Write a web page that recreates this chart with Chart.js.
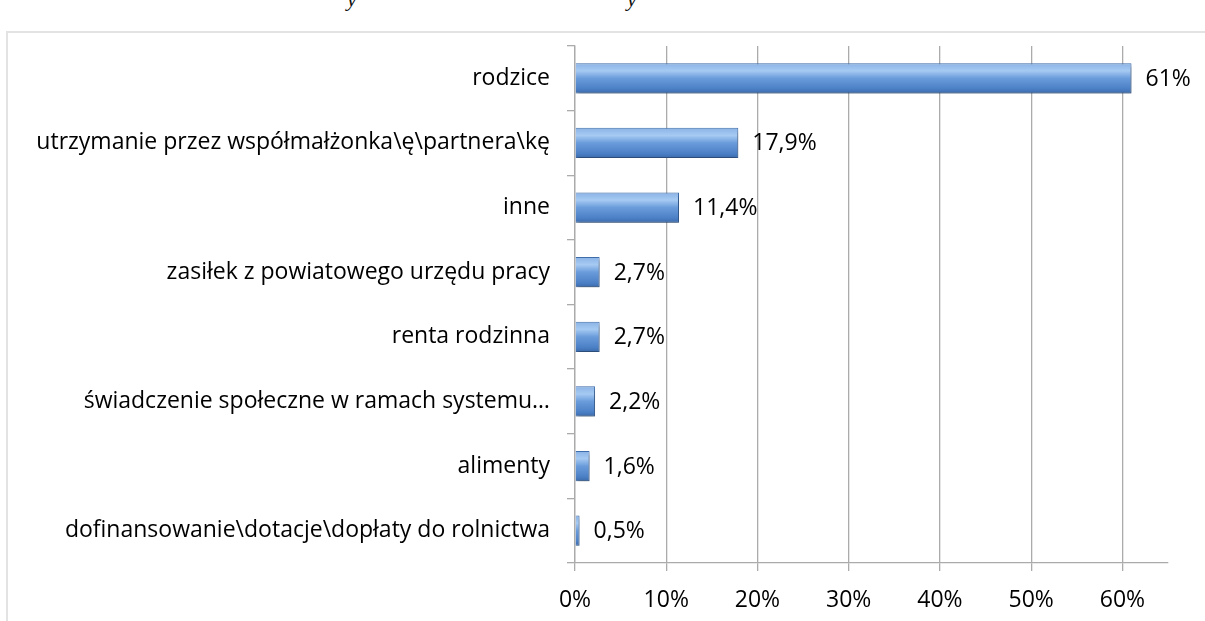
<!DOCTYPE html>
<html>
<head>
<meta charset="utf-8">
<script src="https://cdn.jsdelivr.net/npm/chart.js@4/dist/chart.umd.min.js"></script>
<style>
  html, body { margin: 0; padding: 0; background: #fff; overflow: hidden; }
  #wrap { position: relative; width: 1205px; height: 621px; }
  #frame { position: absolute; left: 6px; top: 31px; width: 1300px; height: 700px;
           border: 2px solid #e3e3e3; box-sizing: border-box; }
  .cut { position: absolute; top: -14px; font: italic 22px "Liberation Serif", serif; color: #111; }
  canvas { position: absolute; left: 0; top: 0; }
</style>
</head>
<body>
<div id="wrap">
  <div id="frame"></div>
  <span class="cut" style="left:347px">y</span>
  <span class="cut" style="left:627px">y</span>
  <canvas id="barChart" width="1205" height="621"></canvas>
</div>
<script>
// ===== DATA =====
const categories = [
    'rodzice',
    'utrzymanie przez współmałżonka\\ę\\partnera\\kę',
    'inne',
    'zasiłek z powiatowego urzędu pracy',
    'renta rodzinna',
    'świadczenie społeczne w ramach systemu…',
    'alimenty',
    'dofinansowanie\\dotacje\\dopłaty do rolnictwa'
];
const shares = [61, 17.9, 11.4, 2.7, 2.7, 2.2, 1.6, 0.5];
const tickValues = [0, 10, 20, 30, 40, 50, 60];

const FONT = '"Open Sans", sans-serif';
const FONT_SIZE = 23;
const BAR_HALF = 15;

function pct(v) {
    return String(v).replace('.', ',') + '%';
}

// vertical gradient per bar, like the bevelled office style
function barFill(ctx) {
    const chart = ctx.chart;
    const y = chart.scales.y;
    if (!y || ctx.dataIndex === undefined) return '#5b8fd0';
    const c = y.getPixelForValue(ctx.dataIndex);
    if (!isFinite(c)) return '#5b8fd0';
    const g = chart.ctx.createLinearGradient(0, c - BAR_HALF, 0, c + BAR_HALF);
    g.addColorStop(0, '#8ab3e6');
    g.addColorStop(0.25, '#a6caf2');
    g.addColorStop(0.5, '#6a9cdb');
    g.addColorStop(0.85, '#4c80c6');
    g.addColorStop(1, '#3a6aab');
    return g;
}

// soft shadow under the bars
const shadowPlugin = {
    id: 'barShadow',
    beforeDatasetsDraw(chart) {
        const c = chart.ctx;
        c.save();
        c.shadowColor = 'rgba(0,0,0,0.35)';
        c.shadowBlur = 4;
        c.shadowOffsetX = 1;
        c.shadowOffsetY = 3;
    },
    afterDatasetsDraw(chart) {
        chart.ctx.restore();
    }
};

// value labels right of each bar
const valueLabels = {
    id: 'valueLabels',
    afterDraw(chart) {
        const c = chart.ctx;
        const meta = chart.getDatasetMeta(0);
        c.save();
        c.font = FONT_SIZE + 'px ' + FONT;
        c.fillStyle = '#000';
        c.textAlign = 'left';
        c.textBaseline = 'middle';
        meta.data.forEach((bar, i) => {
            c.fillText(pct(shares[i]), bar.x + 14, bar.y + 1);
        });
        c.restore();
    }
};

document.addEventListener('DOMContentLoaded', function() {
    const ctx = document.getElementById('barChart').getContext('2d');
    new Chart(ctx, {
        type: 'bar',
        data: {
            labels: categories,
            datasets: [{
                data: shares,
                backgroundColor: barFill,
                borderColor: '#3f6fae',
                borderWidth: 1,
                barPercentage: 0.47,
                categoryPercentage: 1
            }]
        },
        options: {
            indexAxis: 'y',
            responsive: false,
            animation: false,
            layout: { padding: { top: 46, right: 37, left: 0, bottom: 0 } },
            plugins: {
                legend: { display: false },
                tooltip: { enabled: false }
            },
            scales: {
                x: {
                    min: 0,
                    max: 65,
                    afterBuildTicks(scale) {
                        scale.ticks = tickValues.map(v => ({ value: v }));
                    },
                    afterFit(scale) { scale.height = 58; },
                    ticks: {
                        callback: v => v + '%',
                        color: '#000',
                        font: { family: FONT, size: FONT_SIZE },
                        padding: 16
                    },
                    grid: { color: '#ababab', lineWidth: 1.3, tickLength: 8 },
                    border: { color: '#ababab', width: 1.3 }
                },
                y: {
                    afterFit(scale) { scale.width = 575; },
                    ticks: {
                        color: '#000',
                        font: { family: FONT, size: FONT_SIZE },
                        padding: 17
                    },
                    grid: { offset: true, drawOnChartArea: false, color: '#ababab', lineWidth: 1.3, tickLength: 8 },
                    border: { color: '#ababab', width: 1.3 }
                }
            }
        },
        plugins: [shadowPlugin, valueLabels]
    });
});
</script>
</body>
</html>
